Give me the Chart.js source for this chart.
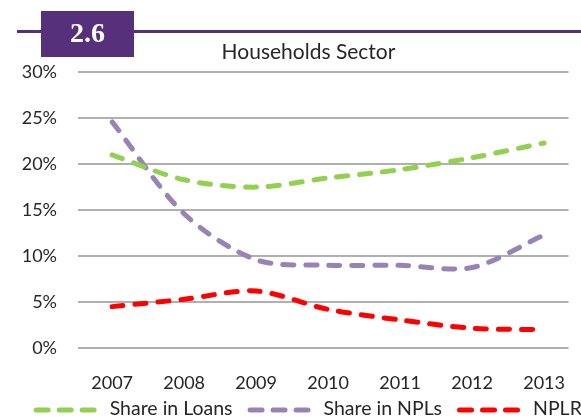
<!DOCTYPE html>
<html>
<head>
<meta charset="utf-8">
<script src="https://cdn.jsdelivr.net/npm/chart.js@4.4.0/dist/chart.umd.min.js"></script>
<style>
  html, body { margin: 0; padding: 0; background: #fff; overflow: hidden; }
  canvas { display: block; }
</style>
</head>
<body>
<canvas id="myChart" width="581" height="419"></canvas>
<script>
// values (percent)
var years = [2007, 2008, 2009, 2010, 2011, 2012, 2013];
var shareInLoans = [21.0, 18.3, 17.5, 18.5, 19.4, 20.7, 22.3];
var shareInNPLs = [24.6, 14.6, 9.6, 9.0, 9.0, 8.75, 12.3];
var nplr = [4.5, 5.3, 6.2, 4.2, 3.05, 2.15, 2.0];
var yTicks = [0, 5, 10, 15, 20, 25, 30];

var FONT = 'Lato';
var TEXT = '#262626';

function pts(vals) {
  return years.map(function (y, i) { return { x: y, y: vals[i] }; });
}

// badge "2.6", the purple rule, and the legend row at the bottom
var decor = {
  id: 'decor',
  afterLayout: function (chart) {
    // title sits a bit right of the canvas centre
    chart.titleBlock.left += 18;
    chart.titleBlock.right += 18;
  },
  afterDraw: function (chart) {
    var c = chart.ctx;
    c.save();
    c.fillStyle = '#56307b';
    c.fillRect(17, 30, 581 - 17, 3);
    c.fillRect(41, 11, 93, 46);
    c.fillStyle = '#fff';
    c.font = 'bold 28px "Liberation Serif"';
    c.textAlign = 'center';
    c.textBaseline = 'middle';
    c.fillText('2.6', 87.5, 35);

    // legend
    var lineW = 58, gap = 15.5, pad = 17.5, y = 409;
    c.font = '19.5px ' + FONT;
    var sets = chart.data.datasets;
    var total = 0;
    sets.forEach(function (d, i) {
      total += lineW + gap + c.measureText(d.label).width + (i ? pad : 0);
    });
    var x = 306.5 - total / 2 + 2.5;
    sets.forEach(function (d) {
      c.strokeStyle = d.borderColor;
      c.lineWidth = d.borderWidth;
      c.lineCap = d.borderCapStyle;
      c.setLineDash([12, 11]);
      c.beginPath();
      c.moveTo(x, y + 1);
      c.lineTo(x + lineW, y + 1);
      c.stroke();
      c.setLineDash([]);
      c.fillStyle = TEXT;
      c.textAlign = 'left';
      c.fillText(d.label, x + lineW + gap, y);
      x += lineW + gap + c.measureText(d.label).width + pad;
    });
    c.restore();
  }
};

function ds(label, vals, color) {
  return {
    label: label,
    data: pts(vals),
    borderColor: color,
    backgroundColor: color,
    borderWidth: 5,
    borderDash: [11, 12],
    borderCapStyle: 'round',
    pointRadius: 0,
    tension: 0.3,
    fill: false
  };
}

var ctx = document.getElementById('myChart').getContext('2d');
var chart = new Chart(ctx, {
  type: 'line',
  data: {
    datasets: [
      ds('Share in Loans', shareInLoans, '#92d050'),
      ds('Share in NPLs', shareInNPLs, '#9983b6'),
      ds('NPLR', nplr, '#ff0000')
    ]
  },
  options: {
    responsive: false,
    animation: false,
    layout: { padding: 0 },
    plugins: {
      title: {
        display: true,
        text: 'Households Sector',
        color: TEXT,
        font: { family: FONT, size: 21, weight: 'normal' },
        padding: { top: 40, bottom: 7 }
      },
      legend: { display: false },
      tooltip: { enabled: false }
    },
    scales: {
      x: {
        type: 'linear',
        min: 2006.526,
        max: 2013.339,
        grid: { display: false },
        border: { display: false },
        afterFit: function (s) { s.height = 71; },
        afterBuildTicks: function (s) {
          s.ticks = years.map(function (v) { return { value: v }; });
        },
        ticks: {
          padding: 16,
          maxRotation: 0,
          color: TEXT,
          font: { family: FONT, size: 18 },
          callback: function (v) { return String(v); }
        }
      },
      y: {
        min: 0,
        max: 30,
        afterFit: function (s) { s.width = 78; },
        afterBuildTicks: function (s) {
          s.ticks = yTicks.map(function (v) { return { value: v }; });
        },
        grid: { color: '#b0b0b0', lineWidth: 2, drawTicks: false },
        border: { display: false },
        ticks: {
          padding: 21,
          color: TEXT,
          font: { family: FONT, size: 18 },
          callback: function (v) { return v + '%'; }
        }
      }
    }
  },
  plugins: [decor]
});
</script>
</body>
</html>
